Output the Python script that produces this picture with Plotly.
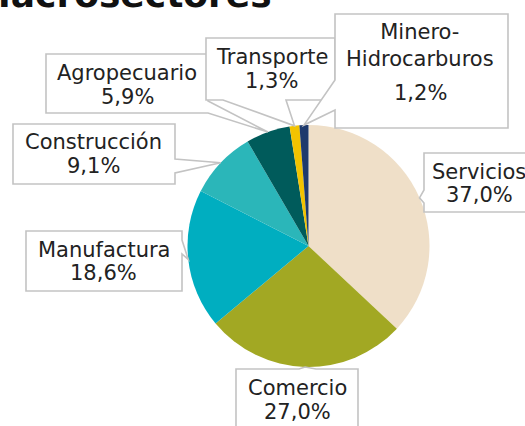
import math
import plotly.graph_objects as go

# ---- data ----
categories = ["Servicios", "Comercio", "Manufactura", "Construcción",
              "Agropecuario", "Transporte", "Minero-Hidrocarburos"]
values = [37.0, 27.0, 18.6, 9.1, 5.9, 1.3, 1.2]
value_labels = ["37,0%", "27,0%", "18,6%", "9,1%", "5,9%", "1,3%", "1,2%"]
name_labels = ["Servicios", "Comercio", "Manufactura", "Construcción",
               "Agropecuario", "Transporte", "Minero-<br>Hidrocarburos"]
colors = ["#EFDFC8", "#A2A823", "#00AEC0", "#2BB6B9",
          "#005B5B", "#F2C300", "#1E3A6D"]
title = "Macrosectores"

W, H = 525, 426
CX, CY, R = 308.5, 246.0, 121.0
FONT = "DejaVu Sans"
FS = 21

def px(x):
    return x / W

def py(y):
    return 1 - y / H

fig = go.Figure(go.Pie(
    labels=categories, values=values, sort=False, direction="clockwise",
    rotation=0, textinfo="none", hoverinfo="label+percent",
    marker=dict(colors=colors, line=dict(width=0)),
    domain=dict(x=[px(CX - R), px(CX + R)], y=[py(CY + R), py(CY - R)]),
    showlegend=False,
))

# slice mid-angles (clockwise from 12 o'clock) -> tip points on circumference
total = sum(values)
tips = []
acc = 0.0
for v in values:
    mid = (acc + v / 2) / total * 2 * math.pi
    tips.append((CX + R * math.sin(mid), CY - R * math.cos(mid)))
    acc += v

# callout boxes: (x0, y0, x1, y1), side of pointer, base span, text lines y
boxes = [
    dict(rect=(424, 153, 545, 212), side="left", base=(190, 203), cx=479, ny=172, vy=195),
    dict(rect=(236, 369, 358, 445), side="top", base=(299, 316), cx=297, ny=388, vy=412),
    dict(rect=(26, 231, 182, 291), side="right", base=(240, 254), cx=103.5, ny=250, vy=273),
    dict(rect=(13, 124, 175, 184), side="right", base=(159, 173), cx=93.5, ny=142, vy=166),
    dict(rect=(46, 54, 208, 113), side="right", base=(101, 113), cx=127, ny=73, vy=97),
    dict(rect=(206, 38, 335, 100), side="bottom", base=(223, 286), cx=271.5, ny=57, vy=81),
    dict(rect=(335, 14, 508, 128), side="left", base=(80, 110), cx=420, ny=45.5, vy=93),
]

shapes = []
annotations = []
for b, tip, nm, vl in zip(boxes, tips, name_labels, value_labels):
    x0, y0, x1, y1 = b["rect"]
    a, c = b["base"]
    tx, ty = tip
    if b["side"] == "left":
        pts = [(x0, y0), (x1, y0), (x1, y1), (x0, y1), (x0, c), (tx, ty), (x0, a)]
    elif b["side"] == "right":
        pts = [(x0, y0), (x1, y0), (x1, a), (tx, ty), (x1, c), (x1, y1), (x0, y1)]
    elif b["side"] == "top":
        pts = [(x0, y0), (a, y0), (tx, ty), (c, y0), (x1, y0), (x1, y1), (x0, y1)]
    else:  # bottom
        pts = [(x0, y0), (x1, y0), (x1, y1), (c, y1), (tx, ty), (a, y1), (x0, y1)]
    path = "M " + " L ".join(f"{px(x):.5f},{py(y):.5f}" for x, y in pts) + " Z"
    shapes.append(dict(type="path", path=path, xref="paper", yref="paper",
                       fillcolor="white", line=dict(color="#C3C3C3", width=1.6),
                       layer="above"))
    annotations.append(dict(text=nm, x=px(b["cx"]), y=py(b["ny"]), xref="paper", yref="paper",
                            xanchor="center", yanchor="middle", showarrow=False,
                            font=dict(family=FONT, size=FS, color="#222222")))
    annotations.append(dict(text=vl, x=px(b["cx"]), y=py(b["vy"]), xref="paper", yref="paper",
                            xanchor="center", yanchor="middle", showarrow=False,
                            font=dict(family=FONT, size=FS, color="#222222")))

annotations.append(dict(text=f"<b>{title}</b>", x=px(274), y=py(-6), xref="paper", yref="paper",
                        xanchor="right", yanchor="middle", showarrow=False,
                        font=dict(family=FONT, size=36, color="#111111")))

fig.update_layout(
    width=W, height=H, margin=dict(l=0, r=0, t=0, b=0),
    paper_bgcolor="white", plot_bgcolor="white",
    shapes=shapes, annotations=annotations,
)

fig.write_html("out.html", config={"displayModeBar": False},
               post_script="document.body.style.margin='0px';")
